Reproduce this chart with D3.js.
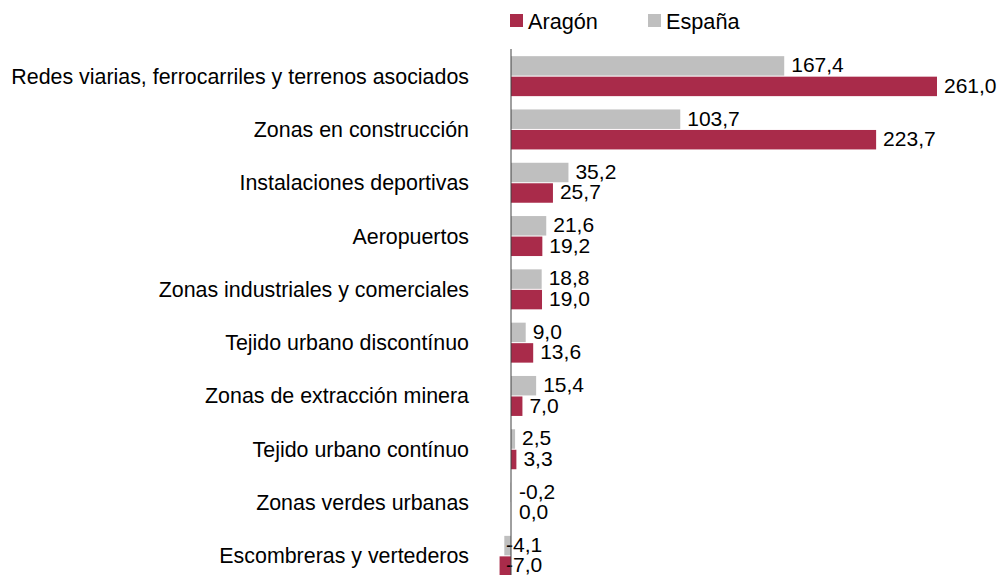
<!DOCTYPE html>
<html>
<head>
<meta charset="utf-8">
<script src="https://cdn.jsdelivr.net/npm/d3@7"></script>
<style>
  body { margin: 0; background: #fff; }
  text { font-family: Arial, "Liberation Sans", sans-serif; }
</style>
</head>
<body>
<svg id="chart" width="1000" height="575"></svg>
<script>
// --- data ---
var categories = [
    "Redes viarias, ferrocarriles y terrenos asociados",
    "Zonas en construcción",
    "Instalaciones deportivas",
    "Aeropuertos",
    "Zonas industriales y comerciales",
    "Tejido urbano discontínuo",
    "Zonas de extracción minera",
    "Tejido urbano contínuo",
    "Zonas verdes urbanas",
    "Escombreras y vertederos"
];
var espana = [167.4, 103.7, 35.2, 21.6, 18.8, 9.0, 15.4, 2.5, -0.2, -4.1];
var aragon = [261.0, 223.7, 25.7, 19.2, 19.0, 13.6, 7.0, 3.3, 0.0, -7.0];
var series = ["España", "Aragón"];
var legendOrder = ["Aragón", "España"];
var colors = {"Aragón": "#a92b4a", "España": "#bfbfbf"};

// --- layout ---
var width = 1000;
var height = 575;
var svg = d3.select("#chart");

var x = d3.scaleLinear().domain([0, 261]).range([511, 937]);
var y = d3.scaleBand().domain(categories).range([49.5, 582.5]).paddingInner(0.25).paddingOuter(0.125);
var ySub = d3.scaleBand().domain(series).range([0, y.bandwidth()]).paddingInner(0.05);

var rows = categories.map((c, i) => ({cat: c, vals: {"España": espana[i], "Aragón": aragon[i]}}));

var fmt = v => d3.format(".1f")(v).replace(".", ",").replace("−", "-");

// bars
var g = svg.append("g");
rows.forEach(r => {
    series.forEach(s => {
        var v = r.vals[s];
        var y0 = y(r.cat) + ySub(s);
        g.append("rect")
            .attr("x", Math.min(x(0), x(v)))
            .attr("y", y0)
            .attr("width", Math.abs(x(v) - x(0)))
            .attr("height", ySub.bandwidth())
            .attr("fill", colors[s]);
        // value labels
        var lx;
        if (v > 0) lx = x(v) + 7;
        else if (v > -1) lx = x(0) + 8;
        else lx = x(0) - 5;
        g.append("text")
            .attr("x", lx)
            .attr("y", y0 + ySub.bandwidth() / 2)
            .attr("dy", "0.3em")
            .attr("font-size", 21)
            .attr("fill", "#000")
            .text(fmt(v));
    });
});

// zero axis line
svg.append("line")
    .attr("x1", x(0)).attr("x2", x(0))
    .attr("y1", 49).attr("y2", height)
    .attr("stroke", "#404040")
    .attr("stroke-width", 1);

// category labels
svg.append("g").selectAll("text")
    .data(categories)
    .join("text")
    .attr("x", 469)
    .attr("y", d => y(d) + y.bandwidth() / 2)
    .attr("dy", "0.35em")
    .attr("text-anchor", "end")
    .attr("font-size", 21.4)
    .attr("fill", "#000")
    .text(d => d);

// legend
var legend = svg.append("g");
var legendX = [510, 648];
legendOrder.forEach((s, i) => {
    legend.append("rect")
        .attr("x", legendX[i]).attr("y", 14)
        .attr("width", 13).attr("height", 13)
        .attr("fill", colors[s]);
    legend.append("text")
        .attr("x", legendX[i] + 18).attr("y", 21)
        .attr("dy", "0.35em")
        .attr("font-size", 21.7)
        .text(s);
});
</script>
</body>
</html>
